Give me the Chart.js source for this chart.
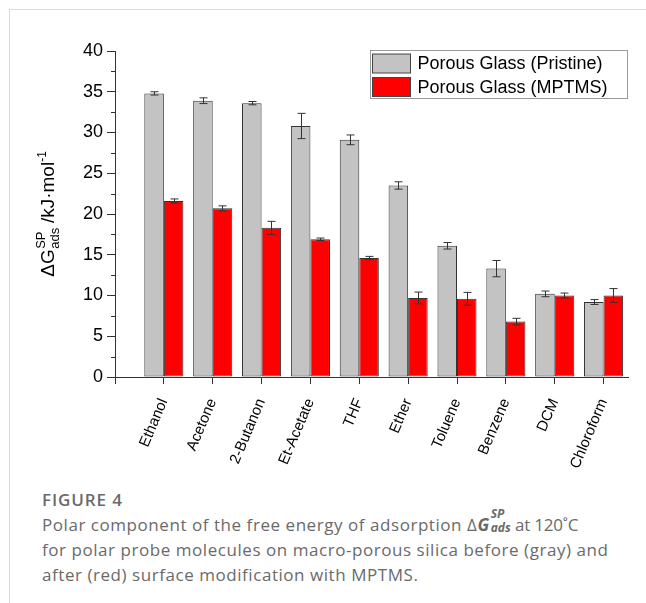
<!DOCTYPE html>
<html>
<head>
<meta charset="utf-8">
<script src="https://cdn.jsdelivr.net/npm/chart.js@4/dist/chart.umd.min.js"></script>
<style>
  html, body { margin: 0; padding: 0; background: #fff; }
  #page { position: relative; width: 646px; height: 603px; overflow: hidden; }
  #frame { position: absolute; left: 9px; top: 9px; right: 0; bottom: 0;
           border-top: 1px solid #dcdcdc; border-left: 1px solid #dcdcdc; }
  #wrap { position: absolute; left: 0; top: 0; width: 646px; height: 480px; }
  #caption { position: absolute; left: 42px; top: 488px; width: 604px;
             font-family: "Open Sans", "Noto Sans", sans-serif; color: #6a6a6a; }
  #caption .fig { font-size: 17px; font-weight: 600; line-height: 24px; letter-spacing: 0.9px; }
  #caption .txt { font-size: 17px; line-height: 25px; letter-spacing: 0.55px; white-space: nowrap; }
  #caption .tight { letter-spacing: -0.2px; }
  .stk { position: relative; display: inline-block; width: 21px; height: 1em; }
  .stk span { position: absolute; left: 1px; font-size: 12px; line-height: 12px;
              font-weight: 700; font-style: italic; letter-spacing: 0; }
  .stk .sp { top: -6px; }
  .stk .sb { top: 8px; }
</style>
</head>
<body>
<div id="page">
  <div id="frame"></div>
  <div id="wrap"><canvas id="c" width="646" height="480"></canvas></div>
  <div id="caption">
    <div class="fig">FIGURE 4</div>
    <div class="txt">Polar component of the free energy of adsorption &Delta;<b><i>G</i></b><span class="stk"><span class="sp">SP</span><span class="sb">ads</span></span><span class="tight"> at 120&#730;C</span><br>for polar probe molecules on macro-porous silica before (gray) and<br>after (red) surface modification with MPTMS.</div>
  </div>
</div>
<script>
// Probe molecules
const categories = ['Ethanol', 'Acetone', '2-Butanon', 'Et-Acetate', 'THF',
                    'Ether', 'Toluene', 'Benzene', 'DCM', 'Chloroform'];
// Polar free energy of adsorption, kJ/mol
const pristine    = [34.8, 33.9, 33.6, 30.8, 29.1, 23.5, 16.1, 13.3, 10.2, 9.2];
const pristineErr = [0.2, 0.35, 0.2, 1.55, 0.6, 0.45, 0.4, 1.0, 0.35, 0.3];
const mptms       = [21.6, 20.7, 18.3, 16.9, 14.6, 9.7, 9.6, 6.8, 10.0, 10.0];
const mptmsErr    = [0.25, 0.3, 0.8, 0.15, 0.2, 0.72, 0.78, 0.4, 0.3, 0.85];
const yTicks = [0, 5, 10, 15, 20, 25, 30, 35, 40];
const yMinorTicks = [2.5, 7.5, 12.5, 17.5, 22.5, 27.5, 32.5, 37.5];

const FONT = '"Liberation Sans", Arial, sans-serif';
const INK = '#333333';

const toPoints = arr => arr.map((v, i) => ({ x: i + 1, y: v }));

// Error bars drawn through the scales
const errorBars = {
  id: 'errorBars',
  afterDatasetsDraw(chart) {
    const ctx = chart.ctx;
    const ys = chart.scales.y;
    ctx.save();
    ctx.strokeStyle = INK;
    ctx.lineWidth = 1;
    chart.data.datasets.forEach((ds, di) => {
      const meta = chart.getDatasetMeta(di);
      meta.data.forEach((bar, i) => {
        const v = ds.data[i].y, e = ds.errors[i];
        const x = Math.round(bar.x) + 0.5;
        const y1 = ys.getPixelForValue(v + e), y2 = ys.getPixelForValue(v - e);
        ctx.beginPath();
        ctx.moveTo(x, y1); ctx.lineTo(x, y2);
        ctx.moveTo(x - 4, y1); ctx.lineTo(x + 4, y1);
        ctx.moveTo(x - 4, y2); ctx.lineTo(x + 4, y2);
        ctx.stroke();
      });
    });
    ctx.restore();
  }
};

// Minor ticks on the value axis
const minorTicks = {
  id: 'minorTicks',
  afterDraw(chart) {
    const ctx = chart.ctx;
    const ys = chart.scales.y;
    ctx.save();
    ctx.strokeStyle = INK;
    ctx.lineWidth = 1;
    yMinorTicks.forEach(v => {
      const y = Math.round(ys.getPixelForValue(v)) + 0.5;
      ctx.beginPath();
      ctx.moveTo(ys.right - 4, y); ctx.lineTo(ys.right, y);
      ctx.stroke();
    });
    ctx.restore();
  }
};

// Axis title with sub- and superscripts
const yTitle = {
  id: 'yTitle',
  afterDraw(chart) {
    const ctx = chart.ctx;
    const area = chart.chartArea;
    const big = 'px ' + FONT;
    const parts = [
      { t: '\u0394G', size: 19, dy: 0 },
      { stack: ['SP', 'ads'], size: 13 },
      { t: ' /kJ\u00b7mol', size: 19, dy: 0 },
      { t: '-1', size: 12, dy: -8 }
    ];
    ctx.save();
    ctx.fillStyle = '#000';
    ctx.textBaseline = 'alphabetic';
    let total = 0;
    parts.forEach(p => {
      ctx.font = p.size + big;
      if (p.stack) p.w = Math.max(...p.stack.map(s => ctx.measureText(s).width));
      else p.w = ctx.measureText(p.t).width;
      total += p.w;
    });
    const cy = (area.top + area.bottom) / 2;
    ctx.translate(54, cy);
    ctx.rotate(-Math.PI / 2);
    let x = -total / 2;
    parts.forEach(p => {
      ctx.font = p.size + big;
      if (p.stack) {
        ctx.fillText(p.stack[0], x + 0.5, -9);
        ctx.fillText(p.stack[1], x + 0.5, 5);
      } else {
        ctx.fillText(p.t, x, p.dy);
      }
      x += p.w;
    });
    ctx.restore();
  }
};

// Framed legend in the upper right corner
const boxLegend = {
  id: 'boxLegend',
  afterDraw(chart) {
    const ctx = chart.ctx;
    const L = 370.5, T = 50.5, W = 257, H = 48;
    ctx.save();
    ctx.strokeStyle = '#9a9a9a';
    ctx.lineWidth = 1;
    ctx.fillStyle = '#fff';
    ctx.fillRect(L, T, W, H);
    ctx.strokeRect(L, T, W, H);
    ctx.font = '18px ' + FONT;
    ctx.textBaseline = 'middle';
    chart.data.datasets.forEach((ds, i) => {
      const sy = T + 3.5 + i * 23.5;
      ctx.fillStyle = ds.backgroundColor;
      ctx.fillRect(L + 2, sy, 38, 19);
      ctx.strokeStyle = '#444';
      ctx.strokeRect(L + 2, sy, 38, 19);
      ctx.fillStyle = '#000';
      ctx.fillText(ds.label, L + 47, sy + 10.5);
    });
    ctx.restore();
  }
};

new Chart(document.getElementById('c'), {
  type: 'bar',
  data: {
    datasets: [
      { label: 'Porous Glass (Pristine)', data: toPoints(pristine), errors: pristineErr,
        backgroundColor: '#c3c3c3', borderColor: INK, borderWidth: 1, borderSkipped: false },
      { label: 'Porous Glass (MPTMS)', data: toPoints(mptms), errors: mptmsErr,
        backgroundColor: '#ff0000', borderColor: INK, borderWidth: 1, borderSkipped: false }
    ]
  },
  options: {
    responsive: false,
    animation: false,
    devicePixelRatio: 1,
    categoryPercentage: 0.8,
    barPercentage: 1.0,
    layout: { padding: { left: 0, right: 18, top: 51, bottom: 0 } },
    plugins: { legend: { display: false }, tooltip: { enabled: false } },
    scales: {
      x: {
        type: 'linear',
        min: 0, max: 10.5,
        offset: false,
        afterBuildTicks: s => { s.ticks = [0, 1, 2, 3, 4, 5, 6, 7, 8, 9, 10].map(v => ({ value: v })); },
        afterFit: s => { s.height = 103; },
        grid: { display: true, offset: false, drawOnChartArea: false, drawTicks: true, tickLength: 7, color: INK },
        border: { display: true, color: INK, width: 1 },
        ticks: {
          autoSkip: false, minRotation: 67, maxRotation: 67, padding: 12,
          color: '#000', font: { family: FONT, size: 15 },
          callback: v => categories[v - 1] || ''
        }
      },
      y: {
        min: 0, max: 40,
        afterBuildTicks: s => { s.ticks = yTicks.map(v => ({ value: v })); },
        afterFit: s => { s.width = 115; },
        grid: { display: true, drawOnChartArea: false, drawTicks: true, tickLength: 8, color: INK },
        border: { display: true, color: INK, width: 1 },
        ticks: { padding: 4, color: '#000', font: { family: FONT, size: 18 } }
      }
    }
  },
  plugins: [errorBars, minorTicks, yTitle, boxLegend]
});
</script>
</body>
</html>
